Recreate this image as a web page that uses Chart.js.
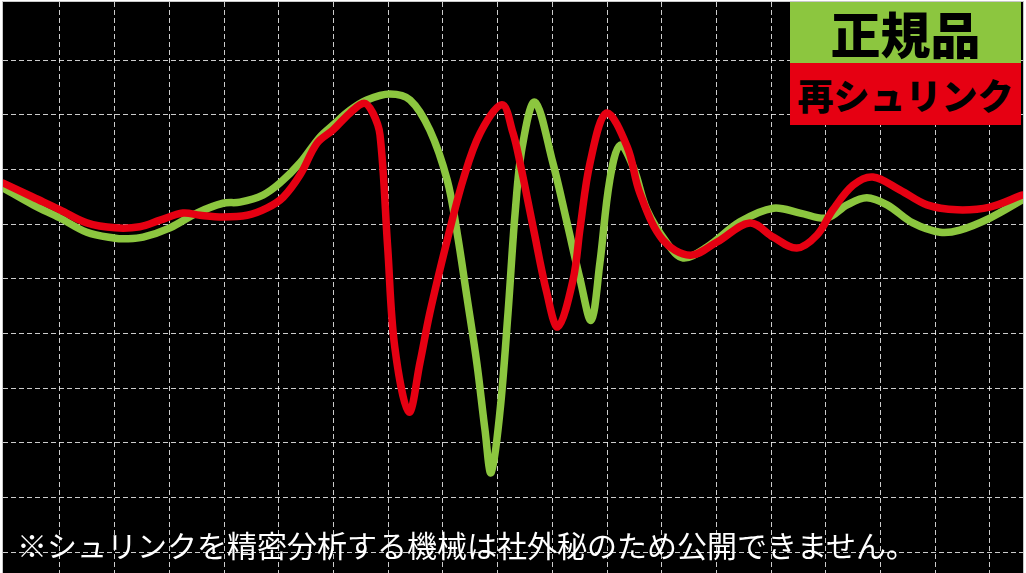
<!DOCTYPE html>
<html>
<head>
<meta charset="utf-8">
<script src="https://cdn.jsdelivr.net/npm/chart.js@4/dist/chart.umd.min.js"></script>
<style>
    body { margin: 0; background: #fff; }
    #wrap { position: relative; width: 1026px; height: 573px; overflow: hidden; }
    .tag { position: absolute; left: 790px; width: 231px; text-align: center; color: #000;
           font-family: "Noto Sans CJK JP", sans-serif; font-weight: 900; }
    #tagGreen { top: 2px; height: 61px; line-height: 61px; background: #8cc63f; font-size: 50px; }
    #tagRed { top: 63px; height: 62px; line-height: 62px; background: #e60012; font-size: 36px; }
    #note { position: absolute; left: 17px; top: 522px; color: #fff; font-size: 30px;
            font-family: "Noto Sans CJK JP", sans-serif; font-weight: 400; white-space: nowrap; }
</style>
</head>
<body>
<div id="wrap">
    <canvas id="chart" width="1026" height="573"></canvas>
    <div class="tag" id="tagGreen">正規品</div>
    <div class="tag" id="tagRed">再シュリンク</div>
    <div id="note">※シュリンクを精密分析する機械は社外秘のため公開できません。</div>
</div>
<script>
// grid units: one cell = 1
const greenX = [-0.04, 0.51, 1.00, 1.49, 2.01, 2.19, 2.52, 3.01, 3.50, 3.98, 4.29, 4.71, 5.02, 5.39, 5.75, 5.99,
    6.30, 6.61, 7.03, 7.40, 7.76, 8.08, 8.26, 8.44, 8.62, 8.77, 8.88, 9.04, 9.19, 9.32, 9.45, 9.68,
    10.01, 10.27, 10.51, 10.71, 10.87, 11.05, 11.24, 11.48, 11.73, 12.10, 12.39, 12.83, 13.43,
    14.04, 14.53, 15.02, 15.39, 15.75, 16.12, 16.59, 17.09, 17.45, 18.00, 18.59];
const greenY = [6.66, 6.35, 6.11, 5.85, 5.74, 5.73, 5.76, 5.93, 6.20, 6.38, 6.40, 6.53, 6.75, 7.12, 7.59, 7.81,
    8.08, 8.27, 8.38, 8.27, 7.72, 6.80, 5.84, 4.66, 3.46, 2.23, 1.45, 2.54, 4.37, 6.20, 7.41, 8.23,
    7.12, 6.02, 4.98, 4.24, 5.29, 6.80, 7.44, 7.04, 6.26, 5.65, 5.38, 5.58, 6.04,
    6.29, 6.20, 6.11, 6.35, 6.48, 6.35, 6.02, 5.85, 5.89, 6.11, 6.44];

const redX = [-0.04, 0.51, 1.00, 1.49, 2.01, 2.46, 2.83, 3.25, 3.56, 3.98, 4.42, 4.78, 5.08, 5.39, 5.70, 5.99,
    6.30, 6.56, 6.72, 6.85, 6.99, 7.12, 7.38, 7.58, 7.76, 8.08, 8.37, 8.68, 9.08, 9.28, 9.41, 9.65,
    9.90, 10.10, 10.38, 10.51, 10.69, 10.99, 11.37, 11.60, 12.02, 12.52, 13.01, 13.61, 14.04,
    14.47, 14.84, 15.13, 15.50, 15.86, 16.36, 16.85, 17.40, 18.00, 18.59];
const redY = [6.75, 6.49, 6.26, 6.02, 5.93, 5.95, 6.07, 6.20, 6.16, 6.13, 6.16, 6.29, 6.49, 6.90, 7.48, 7.72,
    8.03, 8.21, 8.03, 7.63, 5.58, 3.75, 2.56, 3.46, 4.37, 5.71, 6.81, 7.66, 8.18, 7.67, 7.12, 5.94,
    4.74, 4.12, 4.98, 5.94, 7.12, 8.03, 7.41, 6.57, 5.71, 5.43, 5.67, 6.02, 5.76,
    5.56, 5.80, 6.26, 6.71, 6.86, 6.62, 6.35, 6.26, 6.31, 6.53];

const gridX = [1, 2, 3, 4, 5, 6, 7, 8, 9, 10, 11, 12, 13, 14, 15, 16, 17, 18];
const gridY = [0, 1, 2, 3, 4, 5, 6, 7, 8, 9];

function toPoints(xs, ys) {
    return xs.map((x, i) => ({ x: x, y: ys[i] }));
}

const blackArea = {
    id: 'blackArea',
    beforeDraw(chart) {
        const ctx = chart.ctx;
        const a = chart.chartArea;
        ctx.save();
        ctx.fillStyle = '#fff';
        ctx.fillRect(0, 0, chart.width, chart.height);
        ctx.fillStyle = '#000';
        ctx.fillRect(a.left, a.top, a.right - a.left, a.bottom - a.top);
        ctx.strokeStyle = '#c8c8c8';
        ctx.lineWidth = 1;
        ctx.strokeRect(a.left - 0.5, a.top - 0.5, a.right - a.left + 1, a.bottom - a.top + 2);
        ctx.restore();
    }
};

const gridStyle = {
    color: 'rgba(255,255,255,0.8)',
    lineWidth: 1,
    drawTicks: false
};

new Chart(document.getElementById('chart'), {
    type: 'line',
    data: {
        datasets: [{
            label: '再シュリンク',
            data: toPoints(redX, redY),
            borderColor: '#e60012',
            borderWidth: 7.5,
            pointRadius: 0,
            tension: 0.35,
            borderCapStyle: 'round',
            borderJoinStyle: 'round'
        }, {
            label: '正規品',
            data: toPoints(greenX, greenY),
            borderColor: '#8cc63f',
            borderWidth: 7.5,
            pointRadius: 0,
            tension: 0.35,
            borderCapStyle: 'round',
            borderJoinStyle: 'round'
        }]
    },
    options: {
        responsive: false,
        animation: false,
        devicePixelRatio: 1,
        layout: { padding: { left: 3, top: 2, right: 3, bottom: 0 } },
        plugins: { legend: { display: false }, tooltip: { enabled: false } },
        scales: {
            x: {
                type: 'linear',
                min: -0.042,
                max: 18.605,
                afterBuildTicks: scale => { scale.ticks = gridX.map(v => ({ value: v })); },
                ticks: { display: false },
                grid: gridStyle,
                border: { display: false, dash: [5, 3] }
            },
            y: {
                type: 'linear',
                min: -0.383,
                max: 10.061,
                afterBuildTicks: scale => { scale.ticks = gridY.map(v => ({ value: v })); },
                ticks: { display: false },
                grid: gridStyle,
                border: { display: false, dash: [5, 3] }
            }
        }
    },
    plugins: [blackArea]
});
</script>
</body>
</html>
